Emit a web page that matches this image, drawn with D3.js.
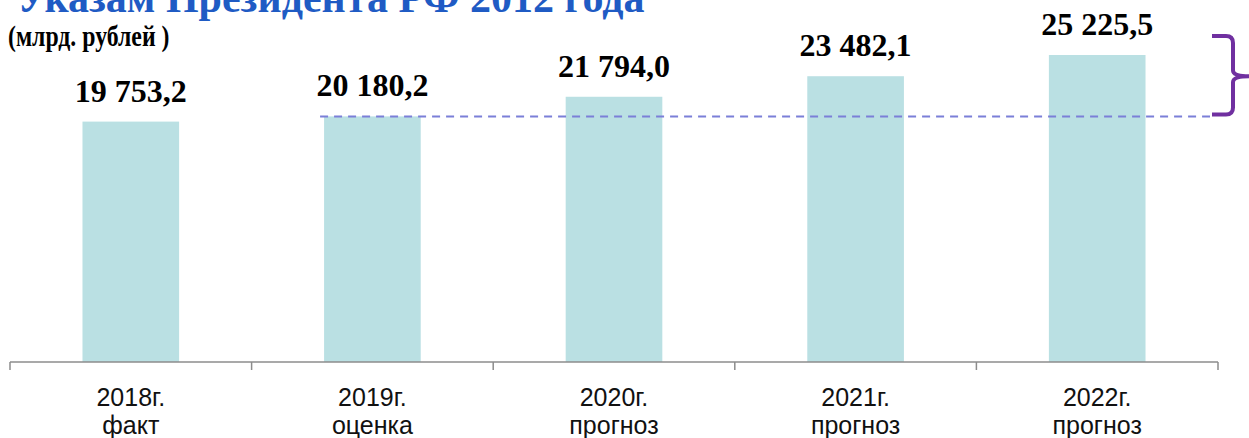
<!DOCTYPE html>
<html>
<head>
<meta charset="utf-8">
<script src="https://cdn.jsdelivr.net/npm/d3@7"></script>
<style>
  html, body { margin: 0; padding: 0; background: #fff; overflow: hidden; }
</style>
</head>
<body>
<svg id="chart" width="1249" height="438"></svg>
<script>
const years = ["2018г.", "2019г.", "2020г.", "2021г.", "2022г."];
const kinds = ["факт", "оценка", "прогноз", "прогноз", "прогноз"];
const values = [19753.2, 20180.2, 21794.0, 23482.1, 25225.5];
const valueLabels = ["19 753,2", "20 180,2", "21 794,0", "23 482,1", "25 225,5"];
const baseIndex = 1; // dashed line at 2019 level

const width = 1249;
const height = 438;
const svg = d3.select("#chart");

const x = d3.scaleBand()
    .domain(years)
    .range([10, 1218])
    .padding(0);

const y = d3.scaleLinear()
    .domain([0, 25225.5])
    .range([362, 55]);

const barW = x.bandwidth() * 0.4;

// title (cut off at top in the original slide)
svg.append("text")
    .attr("x", 17)
    .attr("y", 12)
    .attr("font-family", "Liberation Serif")
    .attr("font-weight", "bold")
    .attr("font-size", 42)
    .attr("fill", "#1f5bc4")
    .text("Указам Президента РФ 2012 года");

// subtitle, narrow like the original
svg.append("text")
    .attr("transform", "translate(8,46) scale(0.82,1)")
    .attr("font-family", "Liberation Serif")
    .attr("font-weight", "bold")
    .attr("font-size", 29)
    .attr("fill", "#000")
    .text("(млрд. рублей )");

// bars
svg.append("g")
  .selectAll("rect")
  .data(values)
  .enter().append("rect")
  .attr("x", (d, i) => x(years[i]) + (x.bandwidth() - barW) / 2)
  .attr("y", d => y(d))
  .attr("width", barW)
  .attr("height", d => y(0) - y(d))
  .attr("fill", "#bae0e3");

// value labels
svg.append("g")
  .selectAll("text")
  .data(values)
  .enter().append("text")
  .attr("x", (d, i) => x(years[i]) + x.bandwidth() / 2)
  .attr("y", d => y(d) - 20)
  .attr("text-anchor", "middle")
  .attr("font-family", "Liberation Serif")
  .attr("font-weight", "bold")
  .attr("font-size", 32)
  .attr("fill", "#000")
  .text((d, i) => valueLabels[i]);

// dashed reference line
const refY = y(values[baseIndex]);
svg.append("line")
    .attr("x1", x(years[baseIndex]) + (x.bandwidth() - barW) / 2 - 4)
    .attr("x2", 1210)
    .attr("y1", refY)
    .attr("y2", refY)
    .attr("stroke", "#7b7fd8")
    .attr("stroke-width", 2)
    .attr("stroke-dasharray", "8,6");

// brace
const topY = 36, botY = refY - 2, midY = (36 + refY) / 2;
svg.append("path")
    .attr("d", `M1212,${topY} L1226,${topY} Q1233,${topY} 1233,${topY + 7}
                L1233,${midY - 6} Q1233,${midY} 1249,${midY}
                Q1233,${midY} 1233,${midY + 6}
                L1233,${botY - 7} Q1233,${botY} 1226,${botY} L1212,${botY}`)
    .attr("fill", "none")
    .attr("stroke", "#7030a0")
    .attr("stroke-width", 4);

// axis
const axis = svg.append("g")
    .attr("transform", "translate(0,362)");
axis.append("line")
    .attr("x1", x.range()[0]).attr("x2", x.range()[1])
    .attr("stroke", "#8c8c8c").attr("stroke-width", 1.5);
axis.selectAll("line.tick")
  .data(years.concat(["end"]))
  .enter().append("line")
  .attr("class", "tick")
  .attr("x1", (d, i) => x.range()[0] + i * x.step())
  .attr("x2", (d, i) => x.range()[0] + i * x.step())
  .attr("y1", 0).attr("y2", 8)
  .attr("stroke", "#8c8c8c").attr("stroke-width", 1.5);

const cat = svg.append("g")
  .selectAll("text")
  .data(years)
  .enter().append("text")
  .attr("x", d => x(d) + x.bandwidth() / 2)
  .attr("text-anchor", "middle")
  .attr("font-family", "Liberation Sans Narrow, Liberation Sans")
  .attr("font-size", 25)
  .attr("fill", "#111");
cat.append("tspan").attr("x", d => x(d) + x.bandwidth() / 2).attr("y", 406).text(d => d);
cat.append("tspan").attr("x", d => x(d) + x.bandwidth() / 2).attr("y", 434).text((d, i) => kinds[i]);
</script>
</body>
</html>
